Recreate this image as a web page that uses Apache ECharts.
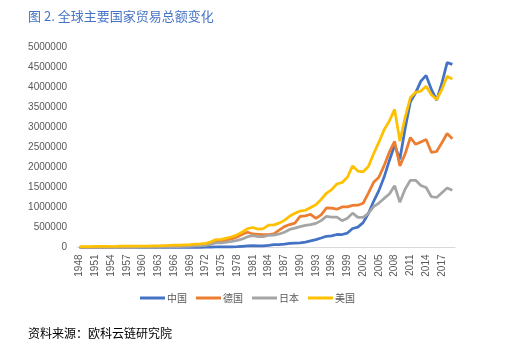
<!DOCTYPE html>
<html>
<head>
<meta charset="utf-8">
<script src="https://cdn.jsdelivr.net/npm/echarts@6/dist/echarts.min.js"></script>
<style>html,body{margin:0;padding:0;background:#fff;}#c{width:529px;height:356px;}</style>
</head>
<body>
<div id="c"></div>
<script>
var years = [];
for (var y = 1948; y <= 2019; y++) years.push(String(y));

var china = [1000,900,1130,1960,1940,2370,2440,3140,3210,3100,3870,4380,3810,2940,2660,2920,3470,4250,4620,4160,4050,4030,
4590,4850,6300,10980,14570,14750,13430,14800,20640,29330,38140,44030,41610,43610,53550,69600,73850,82650,102790,111680,
115440,135630,165530,195700,236620,280860,289880,325160,323950,360630,474290,509650,620770,850990,1154550,1421910,1760440,2176170,2563260,2207540,
2974000,3641860,3867120,4158990,4301530,3953030,3685560,4107140,4622440,4577890];

var germany = [2200,3400,4700,7100,7900,8200,9800,11900,14000,16300,16600,18900,21500,23200,25800,28000,31000,35400,38300,39000,44400,53000,
64000,73000,86000,122000,159000,165000,190000,219000,263000,330000,380000,339000,331000,321000,324000,342000,434000,522000,573000,611000,
777000,792000,830000,728000,815000,988000,982000,957000,1014000,1017000,1052000,1058000,1106000,1357000,1630000,1757000,2047000,2388000,2652000,2040000,
2340000,2750000,2580000,2640000,2700000,2380000,2400000,2620000,2850000,2720000];

var japan = [900,1400,1800,3300,3300,3700,4000,4500,5700,7100,5900,7000,8500,10000,10500,12200,14600,16600,19300,22600,25900,31000,
38200,43700,52100,75300,117600,113700,132000,151000,177000,213000,271000,295000,271000,273000,306000,307000,338000,382000,452000,485000,
523000,552000,573000,603000,672000,779000,760000,759000,669000,730000,859000,752000,754000,855000,1021000,1111000,1227000,1336000,1543000,1130000,
1460000,1680000,1680000,1550000,1500000,1270000,1250000,1370000,1490000,1430000];

var usa = [20000,19800,19100,26000,25900,26200,25000,27000,31700,34600,31700,33800,37000,37000,39500,41800,46200,50500,57000,59000,67000,73000,
83000,90000,105000,141000,199000,205000,236000,268000,315000,388000,471000,500000,460000,470000,559000,565000,609000,678000,781000,856000,
910000,931000,1002000,1068000,1202000,1356000,1447000,1588000,1626000,1755000,2041000,1909000,1893000,2027000,2344000,2633000,2945000,3165000,3453000,2660000,
3250000,3750000,3880000,3910000,4030000,3820000,3700000,3950000,4280000,4210000];

var seriesNames = ['中国','德国','日本','美国'];
var colors = ['#4472C4','#ED7D31','#A5A5A5','#FFC000'];
var seriesData = [china, germany, japan, usa];

var chart = echarts.init(document.getElementById('c'));
chart.setOption({
  animation: false,
  color: colors,
  title: [{
    text: '图 2. 全球主要国家贸易总额变化',
    left: 23, top: 5,
    textStyle: {color: '#4472C4', fontSize: 13, fontWeight: 'normal', fontFamily: 'Noto Sans CJK SC'}
  }, {
    text: '资料来源：欧科云链研究院',
    left: 23, top: 322,
    textStyle: {color: '#000', fontSize: 12, fontWeight: 'normal', fontFamily: 'Noto Sans CJK SC'}
  }],
  legend: {
    data: seriesNames,
    left: 135, top: 288,
    icon: 'rect', itemWidth: 25, itemHeight: 3, itemGap: 9,
    textStyle: {color: '#595959', fontSize: 10, fontFamily: 'Noto Sans CJK SC', padding: [0,0,0,-3]}
  },
  grid: {left: 77, right: 74, top: 47.5, bottom: 108.5, containLabel: false},
  xAxis: {
    type: 'category', data: years, boundaryGap: true,
    axisLine: {lineStyle: {color: '#D9D9D9', width: 1}},
    axisTick: {show: false},
    axisLabel: {rotate: 90, interval: 2, color: '#595959', fontSize: 10, margin: 7, fontFamily: 'Liberation Sans'}
  },
  yAxis: {
    type: 'value', min: 0, max: 5000000, interval: 500000,
    axisLine: {show: false}, axisTick: {show: false},
    splitLine: {show: false},
    axisLabel: {color: '#595959', fontSize: 10, margin: 10, fontFamily: 'Liberation Sans',
      formatter: function (v) { return String(v); }}
  },
  series: seriesNames.map(function (n, i) {
    return {name: n, type: 'line', data: seriesData[i], symbol: 'none', smooth: false,
      lineStyle: {width: 2.75, color: colors[i]}, itemStyle: {color: colors[i]}};
  })
});
</script>
</body>
</html>
